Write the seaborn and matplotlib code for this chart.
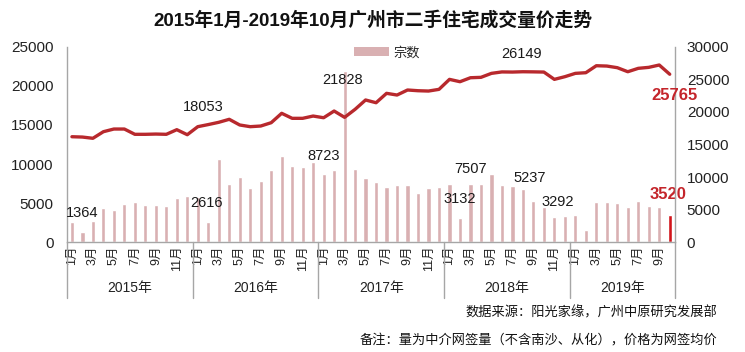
import matplotlib
matplotlib.use("Agg")
import matplotlib.pyplot as plt
import matplotlib.transforms as mtransforms
from matplotlib.patches import Patch
import seaborn as sns
import pandas as pd
import numpy as np

# ---------------- data ----------------
years = [2015, 2016, 2017, 2018, 2019]
months_per_year = [12, 12, 12, 12, 10]

volume = [2600, 1364, 2730, 4350, 4130, 4900, 5150, 4730, 4730, 4600, 5620, 5920,
          5830, 2616, 10630, 7450, 8380, 6940, 7830, 9230, 11020, 9740, 9650, 10290,
          8723, 9230, 21828, 9360, 8250, 7740, 7030, 7320, 7320, 6340, 6900, 7060,
          7450, 3132, 7507, 7450, 8720, 7320, 7190, 6810, 5237, 4550, 3292, 3350,
          3490, 1580, 5150, 5150, 4980, 4550, 5280, 4640, 4550, 3520]

price = [16190, 16140, 15950, 16960, 17370, 17370, 16560, 16560, 16600, 16560, 17270, 16500,
         17730, 18053, 18400, 18860, 17990, 17730, 17830, 18340, 19780, 19010, 19010, 19360,
         19100, 20130, 19160, 20390, 21820, 21400, 22840, 22580, 23350, 23240, 23190, 23450,
         24980, 24620, 25230, 25290, 25900, 26120, 26100, 26149, 26130, 26100, 24980, 25390,
         25900, 26000, 27070, 27020, 26770, 26150, 26670, 26820, 27180, 25765]

# labelled points: (index, dx_pt, dy_pt)
bar_labels = [(1, 0, 13.7), (13, -1.2, 13.7), (24, 0, 13.0), (26, -1.2, -6.5),
              (37, 0, 13.3), (38, 0, 10.8), (44, -2.5, 16.6), (46, 2.2, 10.8)]
bar_label_hl = (57, -1.4, 14.4)
line_labels = [(13, -3.3, 12.9), (43, -1.0, 12.7)]
line_label_hl = (57, 3.4, -15.5)

title = "2015年1月-2019年10月广州市二手住宅成交量价走势"
legend_label = "宗数"
note1 = "数据来源：阳光家缘，广州中原研究发展部"
note2 = "备注：量为中介网签量（不含南沙、从化），价格为网签均价"

month_nums = [m for n in months_per_year for m in range(1, n + 1)]
month_labels = [f"{m}月" if m % 2 == 1 else "" for m in month_nums]
n = len(volume)
idx = list(range(n))
df = pd.DataFrame({"idx": idx, "volume": volume, "price": price})

# ---------------- style ----------------
sns.set_theme(style="white")
plt.rcParams["font.family"] = ["Liberation Sans", "Noto Sans CJK SC", "DejaVu Sans"]
plt.rcParams["axes.unicode_minus"] = False

BAR = "#d9b0b2"
HL = "#d2141b"
LINE = "#b8292d"
LABEL_RED = "#c4252b"
GRID = "#a6a6a6"

fig = plt.figure(figsize=(7.45, 3.52), dpi=100)
ax = fig.add_axes([0.0895, 0.3114, 0.8165, 0.5562])

sns.barplot(data=df, x="idx", y="volume", color=BAR, width=0.4,
            saturation=1, ax=ax, zorder=2)
ax.patches[-1].set_facecolor(HL)

ax2 = ax.twinx()
sns.lineplot(data=df, x="idx", y="price", color=LINE, linewidth=2.4, ax=ax2, zorder=3)

ax.set_xlim(-0.5, n - 0.5)
ax2.set_xlim(-0.5, n - 0.5)
ax.set_ylim(0, 25000)
ax2.set_ylim(0, 30000)
ax.set_yticks(range(0, 25001, 5000))
ax2.set_yticks(range(0, 30001, 5000))
ax.set_xlabel("")
ax.set_ylabel("")
ax2.set_xlabel("")
ax2.set_ylabel("")

ax.set_xticks(idx)
ax.set_xticklabels(month_labels, rotation=90, fontsize=9, color="#222222")
ax.tick_params(axis="x", length=0, pad=2)
ax.tick_params(axis="y", length=0, pad=9.5, labelsize=11, labelcolor="#222222")
ax2.tick_params(axis="y", length=0, pad=8.5, labelsize=11, labelcolor="#222222")

for a in (ax, ax2):
    for s in a.spines.values():
        s.set_visible(False)
ax.spines["bottom"].set_visible(True)
ax.spines["bottom"].set_color(GRID)
ax.spines["bottom"].set_linewidth(1)
ax.spines["left"].set_visible(True)
ax.spines["left"].set_color(GRID)
ax.spines["left"].set_linewidth(1)
ax2.spines["right"].set_visible(True)
ax2.spines["right"].set_color(GRID)
ax2.spines["right"].set_linewidth(1)
ax.grid(False)
ax2.grid(False)

# year separators and labels
trans = mtransforms.blended_transform_factory(ax.transData, ax.transAxes)
start = 0
bounds = [-0.5]
for y, cnt in zip(years, months_per_year):
    ax.text(start + (cnt - 1) / 2, -0.233, f"{y}年", transform=trans,
            ha="center", va="center", fontsize=10, color="#222222")
    start += cnt
    bounds.append(start - 0.5)
for b in bounds:
    ax.plot([b, b], [0, -0.285], transform=trans, color=GRID, lw=1,
            clip_on=False, zorder=1)

# data labels
for i, dx, dy in bar_labels:
    ax.annotate(f"{volume[i]}", xy=(i, volume[i]), xytext=(dx, dy),
                textcoords="offset points", ha="center", va="center",
                fontsize=10.5, color="#1a1a1a", zorder=5)
i, dx, dy = bar_label_hl
ax.annotate(f"{volume[i]}", xy=(i, volume[i]), xytext=(dx, dy),
            textcoords="offset points", ha="center", va="center",
            fontsize=12, fontweight="bold", color=LABEL_RED, zorder=5)
for i, dx, dy in line_labels:
    ax2.annotate(f"{price[i]}", xy=(i, price[i]), xytext=(dx, dy),
                 textcoords="offset points", ha="center", va="center",
                 fontsize=10.5, color="#1a1a1a", zorder=5)
i, dx, dy = line_label_hl
ax2.annotate(f"{price[i]}", xy=(i, price[i]), xytext=(dx, dy),
             textcoords="offset points", ha="center", va="center",
             fontsize=12, fontweight="bold", color=LABEL_RED, zorder=5)

# legend
ax2.legend(handles=[Patch(facecolor=BAR, edgecolor="none")], labels=[legend_label],
           loc="center", bbox_to_anchor=(387 / 745, 1 - 53 / 352),
           bbox_transform=fig.transFigure, frameon=False, fontsize=9.5,
           handlelength=2.6, handleheight=0.7, handletextpad=0.35,
           borderpad=0, borderaxespad=0)

# title and notes
fig.text(0.5, 1 - 20 / 352, title, ha="center", va="center",
         fontsize=13.5, fontweight="bold", color="#111111")
fig.text(717 / 745, 1 - 313 / 352, note1, ha="right", va="center",
         fontsize=9.5, color="#111111")
fig.text(717 / 745, 1 - 341 / 352, note2, ha="right", va="center",
         fontsize=9.5, color="#111111")

fig.savefig("out.png", dpi=100)
